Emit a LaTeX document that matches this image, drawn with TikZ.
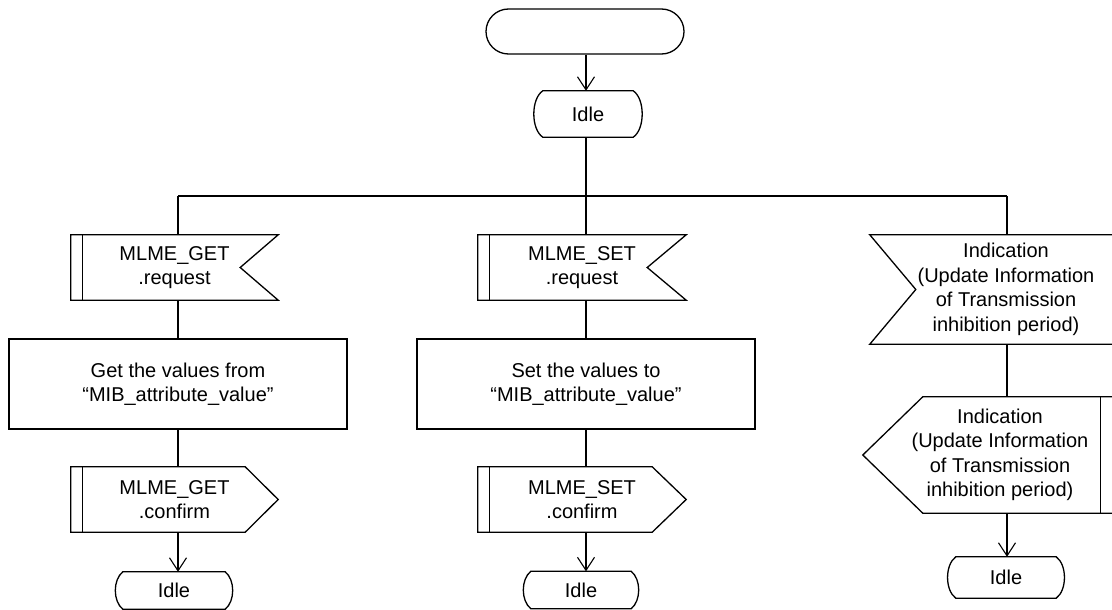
\documentclass[tikz,border=0pt]{standalone}
\usepackage{fontspec}
\setmainfont{Liberation Sans}
\usetikzlibrary{calc,arrows.meta}
\newcommand\InSigR[2]{%
 \draw[shp] (#1.north west) -- (#1.north east) -- ($(#1.east)+(-#2,0)$) -- (#1.south east) -- (#1.south west) -- cycle;
 \draw[shp] ($(#1.north west)+(12,0)$) -- ($(#1.south west)+(12,0)$);}
\newcommand\OutSigR[2]{%
 \draw[shp] (#1.north west) -- ($(#1.north east)+(-#2,0)$) -- (#1.east) -- ($(#1.south east)+(-#2,0)$) -- (#1.south west) -- cycle;
 \draw[shp] ($(#1.north west)+(12,0)$) -- ($(#1.south west)+(12,0)$);}
\newcommand\InSigL[2]{%
 \draw[shp] (#1.north west) -- (#1.north east) -- (#1.south east) -- (#1.south west) -- ($(#1.west)+(#2,0)$) -- cycle;}
\newcommand\OutSigL[3]{%
 \draw[shp] (#1.west) -- ($(#1.north west)+(#2,0)$) -- (#1.north east) -- (#1.south east) -- ($(#1.south west)+(#2,0)$) -- cycle;
 \draw[shp] ($(#1.north east)+(-#3,0)$) -- ($(#1.south east)+(-#3,0)$);}
\newcommand\IdleShape[2]{%
 \draw[shp] ($(#1.north west)+(#2,0)$) -- ($(#1.north east)+(-#2,0)$)
   .. controls ($(#1.north east)+(2,8)$) and ($(#1.south east)+(2,-8)$) .. ($(#1.south east)+(-#2,0)$)
   -- ($(#1.south west)+(#2,0)$)
   .. controls ($(#1.south west)+(-2,-8)$) and ($(#1.north west)+(-2,8)$) .. ($(#1.north west)+(#2,0)$) -- cycle;}
\begin{document}
\begin{tikzpicture}[x=1pt,y=-1pt,
  shp/.style={line width=1.3pt, line join=miter},
  conn/.style={line width=1.6pt},
  arr/.style={line width=1.1pt, -{Straight Barb[length=13pt,width=17pt,line width=1.1pt]}},
  txt/.style={font=\fontsize{20}{24.5}\selectfont, align=center, inner sep=0pt}]
\useasboundingbox (0,0) rectangle (1112,610);
\clip (0,0) rectangle (1112,610);
% top
\node[txt, draw, shp, minimum width=198pt, minimum height=45pt, rounded corners=22.5pt] (start) at (585,31.5) {};
\node[txt, minimum width=110pt, minimum height=46pt] (idle0) at (588,114) {Idle};
\IdleShape{idle0}{10}
% left column
\node[txt, minimum width=207pt, minimum height=65pt] (req1) at (174.5,267.5) {MLME\_GET\\.request};
\InSigR{req1}{38}
\node[txt, draw, shp, minimum width=338pt, minimum height=90pt] (box1) at (178,384) {Get the values from\\“MIB\_attribute\_value”};
\node[txt, minimum width=207pt, minimum height=65pt] (conf1) at (174.5,499.5) {MLME\_GET\\.confirm};
\OutSigR{conf1}{33}
\node[txt, minimum width=118pt, minimum height=37pt] (idle1) at (174,590.5) {Idle};
\IdleShape{idle1}{8}
% middle column
\node[txt, minimum width=208pt, minimum height=65pt] (req2) at (582,267.5) {MLME\_SET\\.request};
\InSigR{req2}{39}
\node[txt, draw, shp, minimum width=338pt, minimum height=90pt] (box2) at (586,384) {Set the values to\\“MIB\_attribute\_value”};
\node[txt, minimum width=208pt, minimum height=65pt] (conf2) at (582,499.5) {MLME\_SET\\.confirm};
\OutSigR{conf2}{34}
\node[txt, minimum width=116pt, minimum height=37pt] (idle2) at (581,590) {Idle};
\IdleShape{idle2}{8}
% right column
\node[txt, minimum width=272pt, minimum height=109pt] (in1) at (1006,289.5) {Indication\\(Update Information\\of Transmission\\inhibition period)};
\InSigL{in1}{46}
\node[txt, minimum width=274pt, minimum height=116pt] (out1) at (1000,455) {Indication\\(Update Information\\of Transmission\\inhibition period)};
\OutSigL{out1}{60}{37}
\node[txt, minimum width=118pt, minimum height=41pt] (idle3) at (1006,577.5) {Idle};
\IdleShape{idle3}{9}
% connectors
\coordinate (jn) at (586,196);
\coordinate (jl) at (178,196);
\coordinate (jr) at (1007,196);
\draw[arr] (start.south -| jn) -- (jn |- idle0.north);
\draw[conn] (idle0.south -| jn) -- (jn);
\draw[conn] (jl) -- (jr);
\draw[conn] (jl) -- (jl |- req1.north);
\draw[conn] (jn) -- (jn |- req2.north);
\draw[conn] (jr) -- (jr |- in1.north);
\draw[conn] (req1.south -| box1) -- (box1.north);
\draw[conn] (box1.south) -- (box1.south |- conf1.north);
\draw[arr] (conf1.south -| box1) -- (box1 |- idle1.north);
\draw[conn] (req2.south -| box2) -- (box2.north);
\draw[conn] (box2.south) -- (box2.south |- conf2.north);
\draw[arr] (conf2.south -| box2) -- (box2 |- idle2.north);
\draw[conn] (in1.south -| jr) -- (jr |- out1.north);
\draw[arr] (out1.south -| jr) -- (jr |- idle3.north);
\end{tikzpicture}
\end{document}
